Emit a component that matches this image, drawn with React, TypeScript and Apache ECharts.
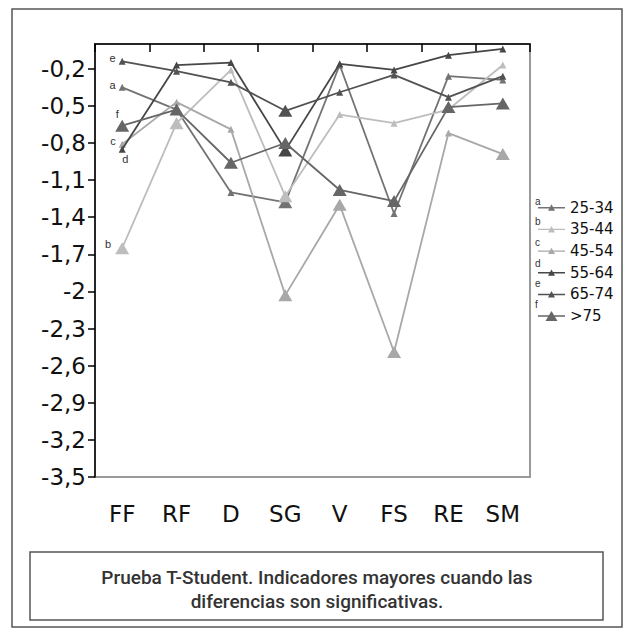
import React, { useEffect, useRef } from 'react';
import * as echarts from 'echarts';

const CATEGORIES = ['FF', 'RF', 'D', 'SG', 'V', 'FS', 'RE', 'SM'];
const Y_TICKS = [-0.2, -0.5, -0.8, -1.1, -1.4, -1.7, -2, -2.3, -2.6, -2.9, -3.2, -3.5];
const SERIES_NAMES = ['25-34', '35-44', '45-54', '55-64', '65-74', '>75'];
const SERIES_LETTERS = ['a', 'b', 'c', 'd', 'e', 'f'];
const SERIES_COLORS = ['#737373', '#bdbdbd', '#a8a8a8', '#474747', '#525252', '#666666'];

const A_25_34 = [-0.35, -0.53, -1.2, -1.28, -0.17, -1.37, -0.26, -0.29];
const B_35_44 = [-1.65, -0.64, -0.21, -1.23, -0.57, -0.64, -0.53, -0.17];
const C_45_54 = [-0.81, -0.47, -0.69, -2.03, -1.3, -2.49, -0.72, -0.89];
const D_55_64 = [-0.85, -0.17, -0.15, -0.86, -0.16, -0.21, -0.09, -0.04];
const E_65_74 = [-0.14, -0.22, -0.31, -0.54, -0.39, -0.25, -0.43, -0.26];
const F_75 = [-0.66, -0.53, -0.96, -0.8, -1.18, -1.27, -0.51, -0.48];

// 1 = significant difference (larger marker)
const SIG_A = [0, 0, 0, 1, 0, 0, 0, 0];
const SIG_B = [1, 1, 0, 1, 0, 0, 0, 0];
const SIG_C = [0, 0, 0, 1, 1, 1, 0, 1];
const SIG_D = [0, 0, 0, 1, 0, 0, 0, 0];
const SIG_E = [0, 0, 0, 1, 0, 0, 0, 0];
const SIG_F = [1, 1, 1, 1, 1, 1, 1, 1];

const CAPTION_1 = 'Prueba T-Student. Indicadores mayores cuando las';
const CAPTION_2 = 'diferencias son significativas.';

const VALUES = [A_25_34, B_35_44, C_45_54, D_55_64, E_65_74, F_75];
const SIGS = [SIG_A, SIG_B, SIG_C, SIG_D, SIG_E, SIG_F];

const LABEL_POS: any[] = [
  { position: 'left', distance: 3, offset: [0, -2] },
  { position: 'left', distance: 4, offset: [0, -4] },
  { position: 'left', distance: 3, offset: [0, -3] },
  { position: 'bottom', distance: 1, offset: [3, 0] },
  { position: 'left', distance: 3, offset: [0, -3] },
  { position: 'top', distance: 0, offset: [-5, 0] },
];

const SMALL_ICON = 'path://M0 6.3H27V7.7H0Z M10 10L13.5 3.6L17 10Z';
const BIG_ICON = 'path://M0 6.3H27V7.7H0Z M7.5 12L13.5 2L19.5 12Z';

export default function App() {
  const ref = useRef<HTMLDivElement>(null);

  useEffect(() => {
    document.body.style.margin = '0';
    if (!ref.current) return;
    const chart = echarts.init(ref.current, undefined, { renderer: 'svg' });

    const LEG_TOP = 200;
    const LEG_ITEM_H = 14;
    const LEG_GAP = 6.7;

    const series = VALUES.map((vals, si) => ({
      name: SERIES_NAMES[si],
      type: 'line',
      xAxisIndex: 0,
      yAxisIndex: 0,
      symbol: 'triangle',
      color: SERIES_COLORS[si],
      lineStyle: { width: 1.8, color: SERIES_COLORS[si] },
      itemStyle: { color: SERIES_COLORS[si], borderWidth: 0 },
      z: 2 + si,
      data: vals.map((v, i) => {
        const item: any = {
          value: v,
          symbolSize: SIGS[si][i] ? [14, 12] : [7, 7],
        };
        if (i === 0) {
          item.label = {
            show: true,
            formatter: SERIES_LETTERS[si],
            fontSize: 11,
            color: '#333',
            fontFamily: 'Liberation Sans',
            ...LABEL_POS[si],
          };
        }
        return item;
      }),
    }));

    const letterGraphics = SERIES_LETTERS.map((l, i) => ({
      type: 'text',
      x: 535,
      y: LEG_TOP - 4 + i * (LEG_ITEM_H + LEG_GAP),
      style: { text: l, fontSize: 10, fill: '#333', fontFamily: 'Liberation Sans' },
      z: 10,
    }));

    const captionStyle = {
      align: 'center',
      verticalAlign: 'middle',
      fontSize: 19,
      fontWeight: 500,
      fontFamily: 'Roboto',
      fill: '#333',
    };

    chart.setOption({
      animation: false,
      backgroundColor: '#fff',
      grid: {
        left: 95,
        top: 44,
        width: 435,
        height: 433,
        show: true,
        borderColor: '#9a9a9a',
        borderWidth: 2,
        backgroundColor: '#fff',
      },
      xAxis: [
        {
          type: 'category',
          data: CATEGORIES,
          position: 'top',
          boundaryGap: true,
          axisLine: { show: true, onZero: false, lineStyle: { color: '#000', width: 1.5 } },
          axisTick: { show: true, inside: true, length: 8, lineStyle: { color: '#000', width: 1.5 } },
          axisLabel: { show: false },
          splitLine: { show: false },
        },
        {
          type: 'category',
          data: CATEGORIES,
          position: 'bottom',
          boundaryGap: true,
          axisLine: { show: false, onZero: false },
          axisTick: { show: false },
          axisLabel: { fontSize: 23, margin: 25, color: '#111', fontFamily: 'DejaVu Sans' },
          splitLine: { show: false },
        },
      ],
      yAxis: {
        type: 'value',
        min: -3.5,
        max: 0,
        axisLine: { show: true, onZero: false, lineStyle: { color: '#000', width: 1.5 } },
        axisTick: { show: true, length: 7, customValues: Y_TICKS, lineStyle: { color: '#000', width: 1.5 } },
        axisLabel: {
          customValues: Y_TICKS,
          formatter: (v: number) => String(Math.round(v * 10) / 10).replace('.', ','),
          fontSize: 23,
          color: '#111',
          margin: 9,
          fontFamily: 'DejaVu Sans',
        },
        splitLine: { show: false },
      },
      legend: {
        orient: 'vertical',
        left: 538,
        top: LEG_TOP,
        padding: 0,
        itemWidth: 27,
        itemHeight: LEG_ITEM_H,
        itemGap: LEG_GAP,
        selectedMode: false,
        itemStyle: { borderWidth: 0 },
        textStyle: { fontSize: 15, color: '#111', fontFamily: 'DejaVu Sans', lineHeight: 14 },
        data: SERIES_NAMES.map((n, i) => ({ name: n, icon: i === 5 ? BIG_ICON : SMALL_ICON })),
      },
      graphic: [
        {
          type: 'rect',
          shape: { x: 12, y: 9, width: 610, height: 618 },
          style: { fill: 'none', stroke: '#555', lineWidth: 1.5 },
          z: -1,
          silent: true,
        },
        {
          type: 'rect',
          shape: { x: 30, y: 552, width: 573, height: 68 },
          style: { fill: 'none', stroke: '#555', lineWidth: 1.5 },
          silent: true,
        },
        {
          type: 'text',
          x: 317,
          y: 577,
          style: { text: CAPTION_1, ...captionStyle },
        },
        {
          type: 'text',
          x: 317,
          y: 601,
          style: { text: CAPTION_2, ...captionStyle },
        },
        ...letterGraphics,
      ],
      series,
    });

    return () => {
      chart.dispose();
    };
  }, []);

  return <div ref={ref} style={{ width: 635, height: 637 }} />;
}
